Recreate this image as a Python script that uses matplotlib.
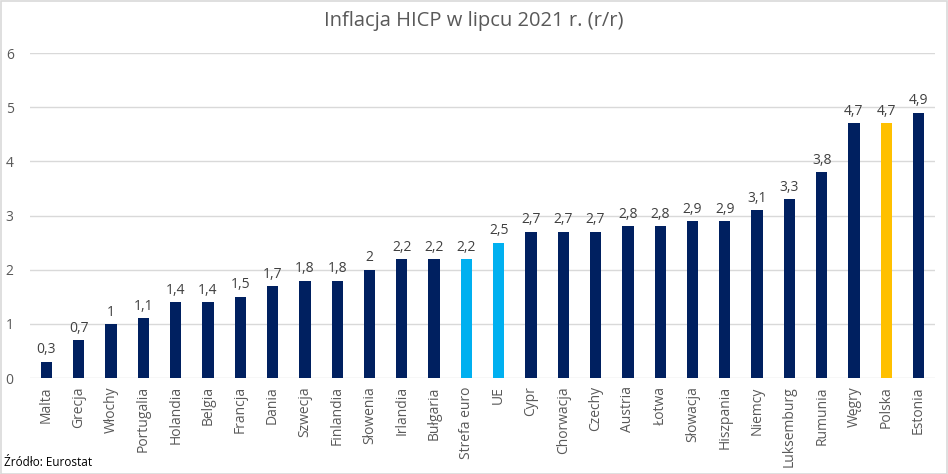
import matplotlib
matplotlib.use("Agg")
from matplotlib import pyplot as plt
import numpy as np

# Dane: inflacja HICP w lipcu 2021 r. (r/r)
kraje = ['Malta', 'Grecja', 'Włochy', 'Portugalia', 'Holandia', 'Belgia', 'Francja',
         'Dania', 'Szwecja', 'Finlandia', 'Słowenia', 'Irlandia', 'Bułgaria',
         'Strefa euro', 'UE', 'Cypr', 'Chorwacja', 'Czechy', 'Austria', 'Łotwa',
         'Słowacja', 'Hiszpania', 'Niemcy', 'Luksemburg', 'Rumunia', 'Węgry',
         'Polska', 'Estonia']
inflacja = [0.3, 0.7, 1.0, 1.1, 1.4, 1.4, 1.5, 1.7, 1.8, 1.8, 2.0, 2.2, 2.2,
            2.2, 2.5, 2.7, 2.7, 2.7, 2.8, 2.8, 2.9, 2.9, 3.1, 3.3, 3.8, 4.7,
            4.7, 4.9]

granat = '#002060'
niebieski = '#00B0F0'
zloty = '#FFC000'
kolory = []
for k in kraje:
    if k in ('Strefa euro', 'UE'):
        kolory.append(niebieski)
    elif k == 'Polska':
        kolory.append(zloty)
    else:
        kolory.append(granat)

plt.rcParams['font.family'] = ['Open Sans', 'DejaVu Sans']
szary = '#595959'

fig = plt.figure(figsize=(9.48, 4.74), dpi=100)
ax = fig.add_axes([0.032, 0.2025, 0.954, 0.6855])

x = np.arange(len(kraje))
ax.bar(x, inflacja, width=0.35, color=kolory, zorder=3)

for xi, v in zip(x, inflacja):
    etykieta = ('%g' % v).replace('.', ',')
    ax.text(xi, v + 0.08, etykieta, ha='center', va='bottom',
            fontsize=10, color='#404040')

ax.set_xlim(-0.5, len(kraje) - 0.5)
ax.set_ylim(0, 6)
ax.set_yticks(range(0, 7))
ax.set_xticks(x)
ax.set_xticklabels(kraje, rotation=90, fontsize=10, color=szary)
ax.tick_params(axis='y', labelsize=10, labelcolor=szary, length=0, pad=12)
ax.tick_params(axis='x', length=0, pad=6)
ax.grid(axis='y', color='#D9D9D9', linewidth=1, zorder=0)
for s in ax.spines.values():
    s.set_visible(False)

fig.text(0.5, 0.955, 'Inflacja HICP w lipcu 2021 r. (r/r)', ha='center', va='center',
         fontsize=14.5, color=szary)
fig.text(0.004, 0.025, 'Źródło: Eurostat', ha='left', va='center', fontsize=8.5,
         color='#000000')

ramka = plt.Rectangle((0.001, 0.001), 0.998, 0.997, transform=fig.transFigure,
                      fill=False, edgecolor='#D9D9D9', linewidth=1.2)
fig.patches.append(ramka)

fig.savefig('out.png', dpi=100)
